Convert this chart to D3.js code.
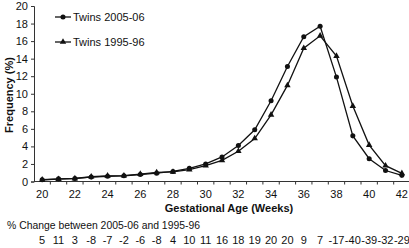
<!DOCTYPE html>
<html>
<head>
<meta charset="utf-8">
<script src="https://cdn.jsdelivr.net/npm/d3@7"></script>
<style>
    body { margin: 0; background: #fff; }
    text { font-family: "Liberation Sans", Arial, sans-serif; fill: #111; }
</style>
</head>
<body>
<div id="chart"></div>
<script>
// gestational age in weeks
const weeks = [20, 21, 22, 23, 24, 25, 26, 27, 28, 29, 30, 31, 32, 33, 34, 35, 36, 37, 38, 39, 40, 41, 42];
// frequency (%) twins 2005-06
const twins2005 = [0.2, 0.3, 0.35, 0.5, 0.6, 0.65, 0.8, 0.95, 1.15, 1.5, 2.0, 2.8, 4.1, 5.9, 9.2, 13.1, 16.5, 17.7, 11.9, 5.2, 2.6, 1.25, 0.7];
// frequency (%) twins 1995-96
const twins1995 = [0.19, 0.27, 0.34, 0.54, 0.65, 0.66, 0.85, 1.03, 1.1, 1.36, 1.8, 2.4, 3.45, 4.9, 7.6, 10.95, 15.2, 16.6, 14.3, 8.6, 4.15, 1.8, 0.93];
// % change row below the chart
const pctChange = [5, 11, 3, -8, -7, -2, -6, -8, 4, 10, 11, 16, 18, 19, 20, 20, 9, 7, -17, -40, -39, -32, -29];
const yTicks = [0, 2, 4, 6, 8, 10, 12, 14, 16, 18, 20];
const xTickLabels = [20, 22, 24, 26, 28, 30, 32, 34, 36, 38, 40, 42];

const width = 409, height = 248;
const margin = {left: 34, right: 0, top: 6, bottom: 67};

const svg = d3.select("#chart").append("svg")
    .attr("width", width)
    .attr("height", height);

// category axis, ticks between categories like a spreadsheet chart
const x = d3.scaleBand()
    .domain(weeks)
    .range([margin.left, margin.left + 23 * 16.35]);
const cx = d => x(d) + x.bandwidth() / 2;

const y = d3.scaleLinear()
    .domain([0, 20])
    .range([181.5, 6]);

// y axis
const yAxis = svg.append("g")
    .attr("transform", "translate(" + margin.left + ",0)")
    .call(d3.axisLeft(y).tickValues(yTicks).tickSize(3).tickPadding(3));
yAxis.select(".domain").attr("stroke", "#333");
yAxis.selectAll(".tick line").attr("stroke", "#333");
yAxis.selectAll("text").attr("font-size", 11).attr("fill", "#111");

// x axis
const xAxis = svg.append("g")
    .attr("transform", "translate(0," + y(0) + ")");
xAxis.append("line")
    .attr("x1", margin.left).attr("x2", width)
    .attr("stroke", "#333");
xAxis.selectAll(".xtick")
    .data(weeks)
    .enter()
    .append("line")
    .attr("x1", d => x(d) + x.bandwidth())
    .attr("x2", d => x(d) + x.bandwidth())
    .attr("y1", 0).attr("y2", 3)
    .attr("stroke", "#333");
xAxis.selectAll("text")
    .data(xTickLabels)
    .enter()
    .append("text")
    .attr("x", d => cx(d))
    .attr("y", 16)
    .attr("text-anchor", "middle")
    .attr("font-size", 11)
    .text(d => d);

// axis titles
svg.append("text")
    .attr("transform", "translate(13," + 95 + ") rotate(-90)")
    .attr("text-anchor", "middle")
    .attr("font-size", 11)
    .attr("font-weight", "bold")
    .text("Frequency (%)");

svg.append("text")
    .attr("x", 229)
    .attr("y", 212)
    .attr("text-anchor", "middle")
    .attr("font-size", 11)
    .attr("font-weight", "bold")
    .text("Gestational Age (Weeks)");

// lines
const line = d3.line()
    .x((d, i) => cx(weeks[i]))
    .y(d => y(d));

const series = [
    {name: "Twins 2005-06", values: twins2005, symbol: d3.symbolCircle, size: 20},
    {name: "Twins 1995-96", values: twins1995, symbol: d3.symbolTriangle, size: 18}
];

series.forEach(s => {
    svg.append("path")
        .datum(s.values)
        .attr("d", line)
        .attr("fill", "none")
        .attr("stroke", "#111")
        .attr("stroke-width", 1.3);

    svg.selectAll(null)
        .data(s.values)
        .enter()
        .append("path")
        .attr("d", d3.symbol().type(s.symbol).size(s.size))
        .attr("transform", (d, i) => "translate(" + cx(weeks[i]) + "," + y(d) + ")")
        .attr("fill", "#111");
});

// legend
series.forEach((s, i) => {
    const ly = 17 + i * 25;
    svg.append("line")
        .attr("x1", 55).attr("x2", 71)
        .attr("y1", ly).attr("y2", ly)
        .attr("stroke", "#111")
        .attr("stroke-width", 1.3);
    svg.append("path")
        .attr("d", d3.symbol().type(s.symbol).size(s.size))
        .attr("transform", "translate(63," + ly + ")")
        .attr("fill", "#111");
    svg.append("text")
        .attr("x", 73)
        .attr("y", ly + 4)
        .attr("font-size", 11)
        .text(s.name);
});

// % change row
svg.append("text")
    .attr("x", 7)
    .attr("y", 229)
    .attr("font-size", 11.5)
    .attr("textLength", 193)
    .attr("lengthAdjust", "spacingAndGlyphs")
    .text("% Change between 2005-06 and 1995-96");

svg.selectAll(".pct")
    .data(pctChange)
    .enter()
    .append("text")
    .attr("class", "pct")
    .attr("x", (d, i) => cx(weeks[i]))
    .attr("y", 244)
    .attr("text-anchor", "middle")
    .attr("font-size", 11)
    .text(d => d);
</script>
</body>
</html>
